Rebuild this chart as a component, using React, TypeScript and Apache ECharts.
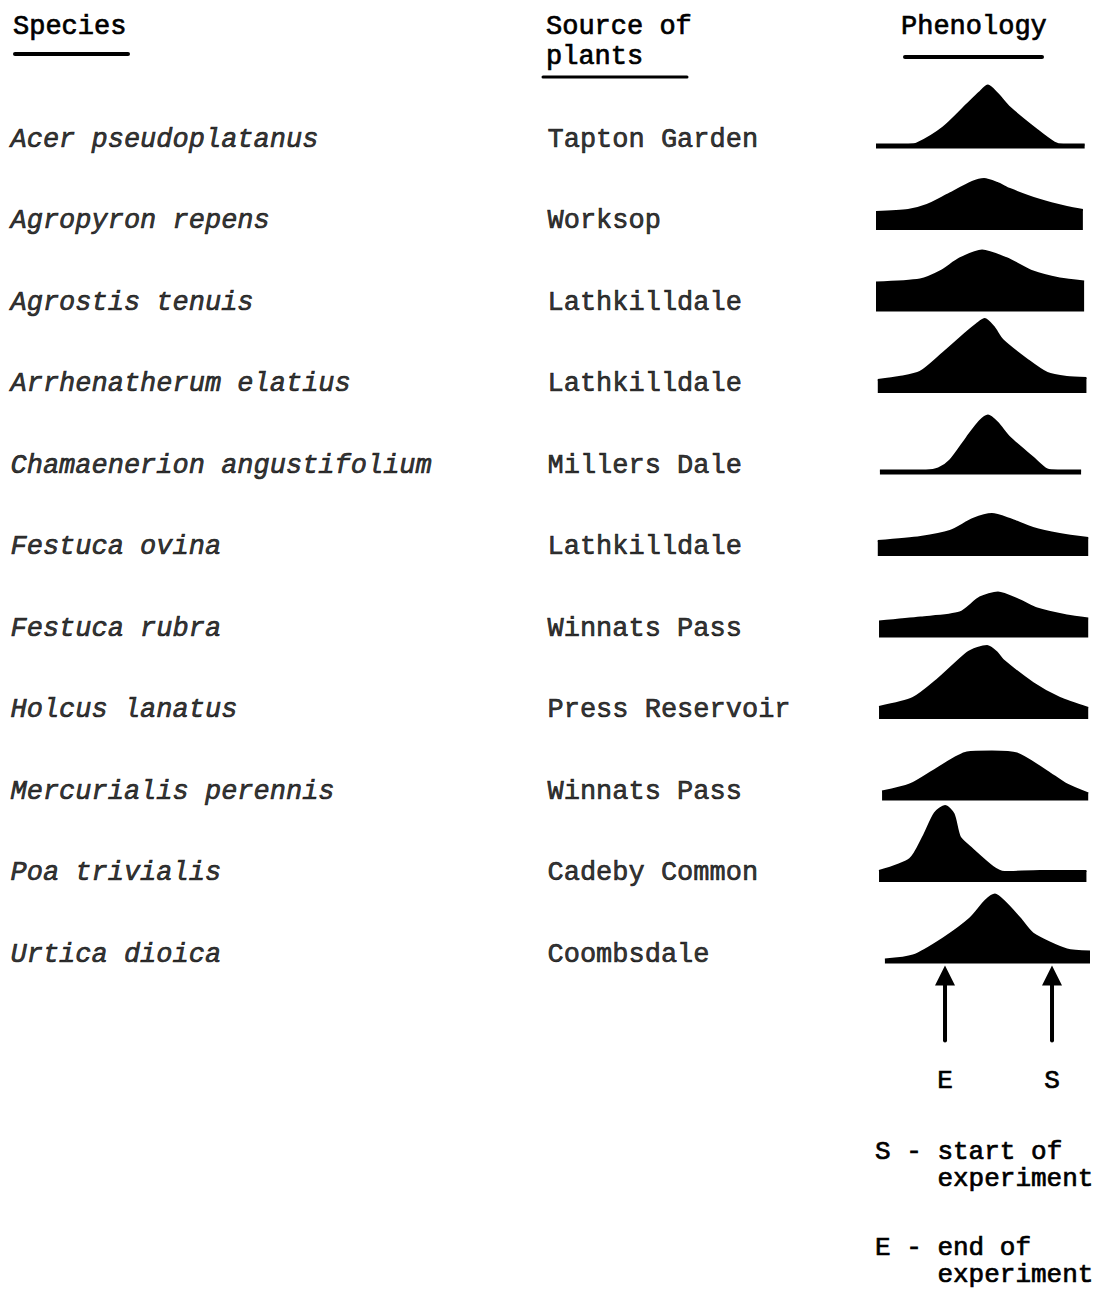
import React, { useEffect, useRef } from "react";
import * as echarts from "echarts";

// ---- data ----
const species = [
  "Acer pseudoplatanus",
  "Agropyron repens",
  "Agrostis tenuis",
  "Arrhenatherum elatius",
  "Chamaenerion angustifolium",
  "Festuca ovina",
  "Festuca rubra",
  "Holcus lanatus",
  "Mercurialis perennis",
  "Poa trivialis",
  "Urtica dioica",
];

const sources = [
  "Tapton Garden",
  "Worksop",
  "Lathkilldale",
  "Lathkilldale",
  "Millers Dale",
  "Lathkilldale",
  "Winnats Pass",
  "Press Reservoir",
  "Winnats Pass",
  "Cadeby Common",
  "Coombsdale",
];

// phenology profiles: [month (0-12), relative height]
const acer = [[0, 4], [1.8, 4], [2.3, 5], [3.76, 21], [5.1, 44], [5.8, 56], [6.28, 63], [6.8, 55], [7.5, 41], [9.0, 19], [10.0, 6], [10.5, 4], [11.7, 4]];
const agropyron = [[0, 18], [1.8, 20], [2.86, 25], [3.98, 35], [5.4, 48], [6.06, 51], [6.8, 47], [7.5, 41], [9.2, 30], [10.7, 23], [11.6, 20]];
const agrostis = [[0, 29], [2.47, 32], [3.6, 40], [4.7, 53], [5.95, 61], [7.35, 53], [8.8, 40], [10.3, 33], [11.67, 30]];
const arrhenatherum = [[0.1, 13], [1.3, 16], [2.47, 21], [3.76, 40], [5.1, 61], [5.65, 69], [6.1, 74], [6.6, 66], [7.1, 53], [8.5, 33], [9.6, 20], [10.7, 16], [11.8, 15]];
const chamaenerion = [[0.22, 4], [2.8, 4], [3.5, 6], [4.15, 14], [5.1, 37], [5.8, 53], [6.28, 59], [6.8, 52], [7.5, 37], [8.8, 17], [9.6, 5], [10.2, 4], [11.5, 4]];
const festucaOvina = [[0.1, 15], [2.5, 19], [4.15, 25], [5.44, 37], [6.5, 42], [7.5, 37], [8.8, 28], [10.3, 22], [11.9, 18]];
const festucaRubra = [[0.17, 16], [2.5, 20], [4.7, 25], [5.83, 40], [6.84, 45], [8.08, 37], [9.03, 29], [10.7, 22], [11.9, 19]];
const holcus = [[0.17, 12], [2.08, 21], [3.42, 39], [5.1, 66], [5.7, 71], [6.23, 73], [6.75, 67], [7.12, 59], [8.8, 36], [10.3, 21], [11.9, 11]];
const mercurialis = [[0.34, 9], [1.9, 16], [3.42, 32], [5.1, 48], [6.5, 49], [7.9, 47], [9.6, 29], [10.7, 16], [11.9, 7]];
const poa = [[0.17, 11], [1.9, 23], [2.64, 45], [3.3, 69], [3.87, 76], [4.35, 68], [4.7, 45], [5.27, 35], [6.56, 15], [7.2, 10], [9.2, 11], [11.8, 11]];
const urtica = [[0.5, 4], [2.08, 8], [3.76, 25], [5.27, 45], [6.15, 63], [6.67, 69], [7.25, 61], [8.08, 45], [8.8, 30], [10.7, 14], [12, 12]];

const phenology = [acer, agropyron, agrostis, arrhenatherum, chamaenerion, festucaOvina, festucaRubra, holcus, mercurialis, poa, urtica];

// experiment markers (month positions on phenology axis)
const markerLabels = ["E", "S"];
const markerMonths = [3.87, 9.87];

const headerSpecies = "Species";
const headerSource = ["Source of", "plants"];
const headerPhenology = "Phenology";
const legendLines = [
  ["S - start of", "experiment"],
  ["E - end of", "experiment"],
];

// ---- layout ----
const FONT_FAMILY = '"Liberation Mono", "DejaVu Sans Mono", monospace';
const FONT_SIZE = 27;
const LEGEND_SIZE = 26;
const INK = "#000";
const TEXT_STROKE = 0.7;
const ROW0 = 139.5;
const ROW_H = 81.5;
const SHAPE_LEFT = 876;
const SHAPE_W = 214;
const SHAPE_H = 80;

function txt(text: string, x: number, y: number, extra: any = {}, size = FONT_SIZE) {
  return {
    type: "text",
    x,
    y,
    silent: true,
    style: {
      text,
      fill: INK,
      stroke: INK,
      lineWidth: TEXT_STROKE,
      font: `normal ${size}px ${FONT_FAMILY}`,
      align: "left",
      verticalAlign: "middle",
      textAlign: "left",
      textVerticalAlign: "middle",
      ...extra,
    },
  };
}

function hline(x1: number, x2: number, y: number, w: number) {
  return {
    type: "line",
    silent: true,
    shape: { x1, y1: y, x2, y2: y },
    style: { stroke: INK, lineWidth: w, lineCap: "round" },
  };
}

export default function App() {
  const ref = useRef<HTMLDivElement>(null);

  useEffect(() => {
    if (!ref.current) return;
    const chart = echarts.init(ref.current, null, { renderer: "svg" });
    const n = species.length;

    const grids: any[] = [
      { left: 10, width: 537, top: ROW0 - ROW_H / 2, height: ROW_H * n },
    ];
    const xAxes: any[] = [
      { type: "category", gridIndex: 0, data: ["species", "source"], boundaryGap: false, show: false },
    ];
    const yAxes: any[] = [
      { type: "category", gridIndex: 0, data: species, inverse: true, show: false },
    ];
    const labelBase = {
      show: true,
      position: "right",
      distance: 0,
      formatter: "{b}",
      fontFamily: FONT_FAMILY,
      fontSize: FONT_SIZE,
      fontWeight: "normal",
      color: INK,
      textBorderColor: INK,
      textBorderWidth: TEXT_STROKE,
    };
    const series: any[] = [
      {
        type: "scatter",
        xAxisIndex: 0,
        yAxisIndex: 0,
        symbolSize: 1,
        silent: true,
        itemStyle: { color: "rgba(0,0,0,0)" },
        label: { ...labelBase, fontStyle: "italic" },
        data: species.map((s, i) => ({ value: [0, i], name: s })),
      },
      {
        type: "scatter",
        xAxisIndex: 0,
        yAxisIndex: 0,
        symbolSize: 1,
        silent: true,
        itemStyle: { color: "rgba(0,0,0,0)" },
        label: { ...labelBase },
        data: sources.map((s, i) => ({ value: [1, i], name: s })),
      },
    ];

    phenology.forEach((pts, i) => {
      const baseline = ROW0 + i * ROW_H + 9;
      grids.push({ left: SHAPE_LEFT, width: SHAPE_W, top: baseline - SHAPE_H, height: SHAPE_H });
      xAxes.push({ type: "value", gridIndex: i + 1, min: 0, max: 12, show: false });
      yAxes.push({ type: "value", gridIndex: i + 1, min: 0, max: SHAPE_H, show: false });
      series.push({
        type: "line",
        xAxisIndex: i + 1,
        yAxisIndex: i + 1,
        data: pts,
        smooth: 0.25,
        symbol: "none",
        silent: true,
        lineStyle: { color: "#000", width: 2, join: "round" },
        areaStyle: { color: "#000", opacity: 1, origin: "start" },
      });
    });

    chart.setOption({
      animation: false,
      backgroundColor: "#fff",
      tooltip: { show: false },
      grid: grids,
      xAxis: xAxes,
      yAxis: yAxes,
      series,
    });

    // annotations
    const lastBaseline = ROW0 + (n - 1) * ROW_H + 9;
    const graphics: any[] = [
      txt(headerSpecies, 13, 27),
      hline(15, 128, 54, 4),
      txt(headerSource[0], 546, 27),
      txt(headerSource[1], 546, 57),
      hline(543, 687, 77, 3),
      txt(headerPhenology, 901, 27),
      hline(905, 1042, 57, 4),
    ];
    markerMonths.forEach((m, k) => {
      const px = chart.convertToPixel({ xAxisIndex: n }, m) as number;
      const tip = lastBaseline + 2;
      graphics.push({
        type: "polygon",
        silent: true,
        shape: { points: [[px, tip], [px - 10, tip + 20], [px + 10, tip + 20]] },
        style: { fill: INK },
      });
      graphics.push({
        type: "line",
        silent: true,
        shape: { x1: px, y1: tip + 18, x2: px, y2: tip + 75 },
        style: { stroke: INK, lineWidth: 4, lineCap: "round" },
      });
      graphics.push(txt(markerLabels[k], px, tip + 115, { align: "center", textAlign: "center" }, LEGEND_SIZE));
    });
    const legendTop = 1152;
    legendLines.forEach((lines, k) => {
      const y = legendTop + k * 96;
      graphics.push(txt(lines[0], 875, y, {}, LEGEND_SIZE));
      graphics.push(txt(lines[1], 875 + 4 * LEGEND_SIZE * 0.6, y + 27, {}, LEGEND_SIZE));
    });

    chart.setOption({ graphic: graphics });

    return () => chart.dispose();
  }, []);

  return (
    <div
      ref={ref}
      style={{ position: "absolute", left: 0, top: 0, width: 1100, height: 1297, background: "#fff" }}
    />
  );
}
